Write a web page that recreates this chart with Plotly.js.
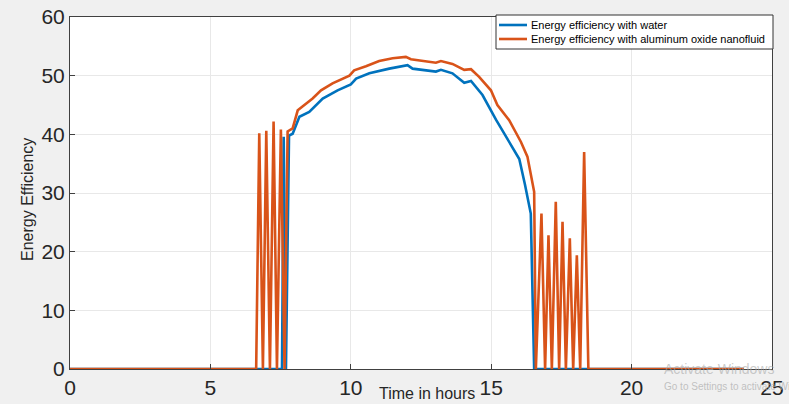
<!DOCTYPE html>
<html>
<head>
<meta charset="utf-8">
<script src="https://cdn.plot.ly/plotly-3.0.1.min.js"></script>
<style>html,body{margin:0;padding:0;background:#f0f0f0;}#chart{width:789px;height:404px;}</style>
</head>
<body>
<div id="chart"></div>
<script>
// Energy efficiency with water
const waterTime = [0, 7.55, 7.61, 7.69, 7.80, 7.93, 8.17, 8.52, 9.0, 9.53, 10.0, 10.19, 10.66, 11.37, 12.02, 12.2, 13.03, 13.21, 13.62, 14.04, 14.28, 14.69, 15.17, 15.64, 16.0, 16.2, 16.41, 16.53, 24];
const waterEff  = [0, 0, 39.6, 0, 39.8, 40.1, 43.0, 43.8, 46.1, 47.5, 48.5, 49.5, 50.4, 51.2, 51.8, 51.2, 50.7, 51.0, 50.4, 48.8, 49.1, 46.7, 42.5, 38.8, 35.8, 31.5, 26.5, 0, 0];

// Energy efficiency with aluminum oxide nanofluid
const nanoTime = [0, 6.63, 6.74, 6.87, 6.99, 7.12, 7.25, 7.37, 7.51, 7.64, 7.75, 7.93, 8.11, 8.35, 8.64, 8.94, 9.35, 9.95, 10.12, 10.54, 11.01, 11.49, 11.96, 12.14, 12.55, 13.03, 13.21, 13.62, 14.04, 14.28, 14.57, 14.99, 15.22, 15.64, 16.06, 16.29, 16.53, 16.59, 16.79, 16.92, 17.04, 17.16, 17.30, 17.42, 17.54, 17.66, 17.80, 17.92, 18.05, 18.17, 18.31, 18.46, 24];
const nanoEff  = [0, 0, 40.2, 0, 40.6, 0, 42.2, 0, 40.8, 0, 40.5, 41.0, 44.1, 45.0, 46.1, 47.5, 48.7, 50.0, 50.9, 51.6, 52.5, 52.96, 53.2, 52.8, 52.5, 52.2, 52.5, 52.0, 51.0, 51.1, 49.8, 47.5, 45.0, 42.4, 38.7, 36.2, 30.2, 0, 26.5, 0, 22.8, 0, 28.5, 0, 25.1, 0, 22.3, 0, 19.4, 0, 37.0, 0, 0];

const xTicks = [0, 5, 10, 15, 20, 25];
const yTicks = [0, 10, 20, 30, 40, 50, 60];
const seriesNames = ['Energy efficiency with water', 'Energy efficiency with aluminum oxide nanofluid'];
const seriesColors = ['#0072BD', '#D95319'];

const tickFont = {family: '"Liberation Sans Narrow", "Liberation Sans", Arial, sans-serif', size: 21, color: '#262626'};
const labelFont = {family: '"Liberation Sans Narrow", "Liberation Sans", Arial, sans-serif', size: 16, color: '#262626'};

// pixel -> paper helpers (plot area: x 70..772, y 17..369)
const L = 70, R = 772, T = 17, B = 369;
const px = v => (v - L) / (R - L);
const py = v => (B - v) / (B - T);

const traces = [
  {x: waterTime, y: waterEff, mode: 'lines', name: seriesNames[0], line: {color: seriesColors[0], width: 2.6}},
  {x: nanoTime, y: nanoEff, mode: 'lines', name: seriesNames[1], line: {color: seriesColors[1], width: 2.6}}
];

// custom legend (box + sample lines + labels)
const legendRows = [25, 39];
const shapes = [
  {type: 'rect', xref: 'paper', yref: 'paper', x0: px(496), x1: px(773), y0: py(49), y1: py(15),
   fillcolor: '#ffffff', line: {color: '#333333', width: 1}, layer: 'above'}
];
const annotations = [
  {text: 'Time in hours', xref: 'paper', yref: 'paper', x: px(427), y: py(393),
   xanchor: 'center', yanchor: 'middle', showarrow: false, font: labelFont},
  {text: 'Energy Efficiency', xref: 'paper', yref: 'paper', x: px(27), y: py(200),
   xanchor: 'center', yanchor: 'middle', textangle: -90, showarrow: false, font: labelFont},
  {text: 'Activate Windows', xref: 'paper', yref: 'paper', x: px(662), y: py(369),
   xanchor: 'left', yanchor: 'middle', showarrow: false,
   font: {family: '"Liberation Sans", Arial, sans-serif', size: 14, color: 'rgba(170,170,170,0.6)'}},
  {text: 'Go to Settings to activate Windows.', xref: 'paper', yref: 'paper', x: px(662), y: py(386),
   xanchor: 'left', yanchor: 'middle', showarrow: false,
   font: {family: '"Liberation Sans", Arial, sans-serif', size: 10, color: 'rgba(170,170,170,0.7)'}}
];
seriesNames.forEach((name, i) => {
  shapes.push({type: 'line', xref: 'paper', yref: 'paper', x0: px(499), x1: px(527), y0: py(legendRows[i]), y1: py(legendRows[i]),
               line: {color: seriesColors[i], width: 2.6}, layer: 'above'});
  annotations.push({text: name, xref: 'paper', yref: 'paper', x: px(529), y: py(legendRows[i]),
                    xanchor: 'left', yanchor: 'middle', showarrow: false,
                    font: {family: 'Arial, "Liberation Sans", sans-serif', size: 11, color: '#000000'}});
});

const layout = {
  width: 789, height: 404,
  margin: {l: L, r: 789 - R, t: T, b: 404 - B, pad: 0},
  paper_bgcolor: '#f0f0f0',
  plot_bgcolor: '#ffffff',
  showlegend: false,
  xaxis: {
    range: [0, 25], tickvals: xTicks, ticktext: xTicks.map(String),
    showgrid: true, gridcolor: '#e8e8e8', gridwidth: 1,
    zeroline: false, showline: true, linecolor: '#404040', linewidth: 1, mirror: true,
    ticks: 'inside', ticklen: 5, tickcolor: '#404040',
    tickfont: tickFont, fixedrange: true
  },
  yaxis: {
    range: [0, 60], tickvals: yTicks, ticktext: yTicks.map(String),
    showgrid: true, gridcolor: '#e8e8e8', gridwidth: 1,
    zeroline: false, showline: true, linecolor: '#404040', linewidth: 1, mirror: true,
    ticks: 'inside', ticklen: 5, tickcolor: '#404040',
    tickfont: tickFont, fixedrange: true
  },
  shapes: shapes,
  annotations: annotations
};

Plotly.newPlot('chart', traces, layout, {displayModeBar: false, staticPlot: true});
</script>
</body>
</html>
